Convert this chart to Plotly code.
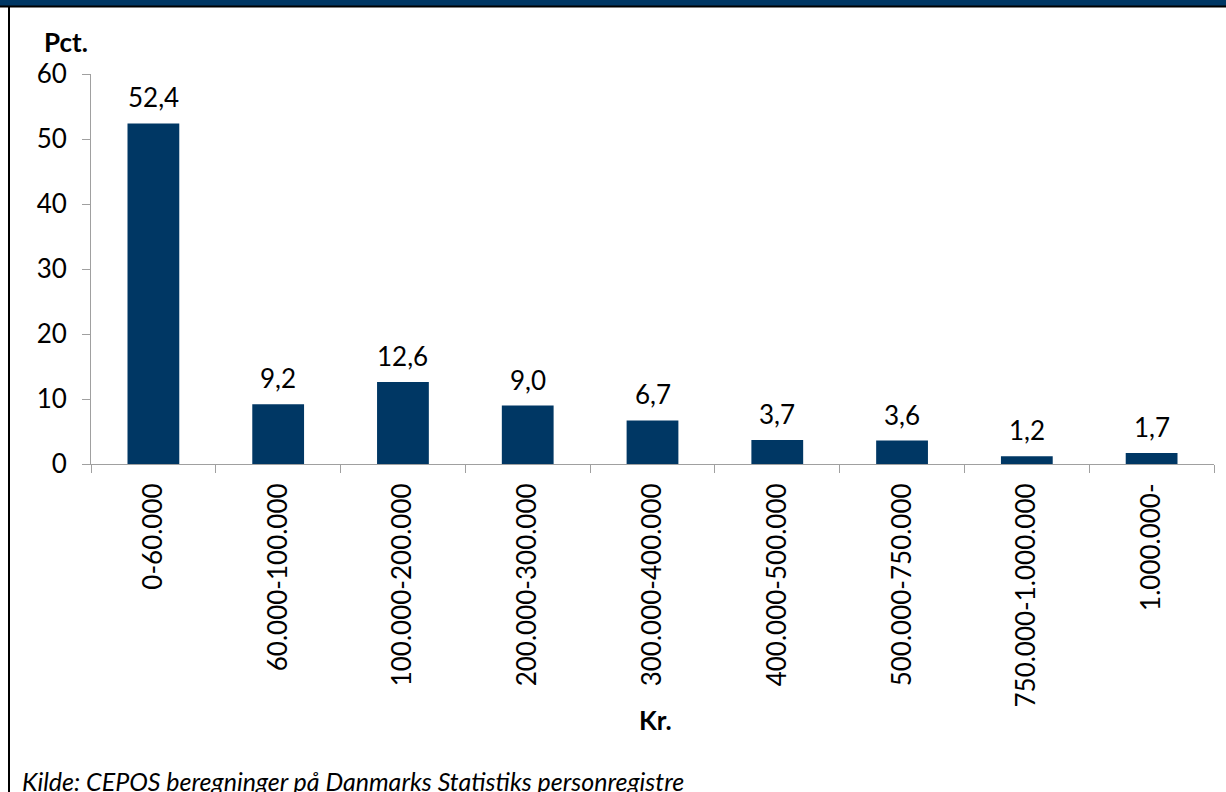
import plotly.graph_objects as go

categories = ["0-60.000", "60.000-100.000", "100.000-200.000", "200.000-300.000",
              "300.000-400.000", "400.000-500.000", "500.000-750.000",
              "750.000-1.000.000", "1.000.000-"]
values = [52.4, 9.2, 12.6, 9.0, 6.7, 3.7, 3.6, 1.2, 1.7]
labels = [f"{v:.1f}".replace(".", ",") for v in values]
y_ticks = [0, 10, 20, 30, 40, 50, 60]

BLUE = "#003764"
FONT = "Lato, Open Sans, sans-serif"
FS = 26

fig = go.Figure(go.Bar(
    x=categories, y=values,
    marker=dict(color=BLUE, line=dict(width=0)),
    hoverinfo="x+y",
))

label_annotations = [
    dict(x=c, y=v, text=t, xref="x", yref="y", showarrow=False,
         xanchor="center", yanchor="bottom", yshift=8,
         font=dict(family=FONT, size=FS, color="black"))
    for c, v, t in zip(categories, values, labels)
]

PW, PH = 1123, 390

fig.update_layout(
    width=1226, height=792,
    margin=dict(l=91, r=12, t=74, b=328),
    paper_bgcolor="white", plot_bgcolor="white",
    bargap=0.585, showlegend=False,
    font=dict(family=FONT, size=FS, color="black"),
    xaxis=dict(
        type="category", showline=True, linecolor="#a0a0a0", linewidth=1,
        ticks="outside", ticklen=8, tickcolor="#a0a0a0", tickson="boundaries",
        tickangle=-90, tickfont=dict(family=FONT, size=FS, color="black"),
        ticklabelstandoff=8,
        showgrid=False, zeroline=False,
    ),
    yaxis=dict(
        range=[0, 60], tickvals=y_ticks, showline=True, linecolor="#a0a0a0", linewidth=1,
        ticks="outside", ticklen=8, tickcolor="#a0a0a0",
        tickfont=dict(family=FONT, size=FS, color="black"),
        ticklabelstandoff=10,
        showgrid=False, zeroline=False,
    ),
    shapes=[
        dict(type="rect", xref="paper", yref="paper", x0=-91/PW, x1=1135/PW,
             y0=1 + 67/PH, y1=1 + 80/PH, fillcolor=BLUE, line=dict(width=0), layer="below"),
        dict(type="line", xref="paper", yref="paper", x0=-91/PW, x1=1135/PW,
             y0=1 + 67.5/PH, y1=1 + 67.5/PH, line=dict(color="black", width=2)),
        dict(type="line", xref="paper", yref="paper", x0=-82/PW, x1=-82/PW,
             y0=1 + 68/PH, y1=-340/PH, line=dict(color="black", width=2)),
    ],
    annotations=label_annotations + [
        dict(text="<b>Pct.</b>", xref="paper", yref="paper", x=-49/PW, y=1 + 32/PH,
             xanchor="left", yanchor="middle", showarrow=False,
             font=dict(family=FONT, size=FS, color="black")),
        dict(text="<b>Kr.</b>", xref="paper", yref="paper", x=(655 - 91)/PW, y=-(720 - 464)/PH,
             xanchor="center", yanchor="middle", showarrow=False,
             font=dict(family=FONT, size=FS, color="black")),
        dict(text="<i>Kilde: CEPOS beregninger på Danmarks Statistiks personregistre</i>",
             xref="paper", yref="paper", x=-71/PW, y=-(781 - 464)/PH,
             xanchor="left", yanchor="middle", showarrow=False,
             font=dict(family=FONT, size=25, color="black")),
    ],
)

fig.write_html("out.html", config={"displayModeBar": False},
               post_script="document.body.style.margin='0px';")
